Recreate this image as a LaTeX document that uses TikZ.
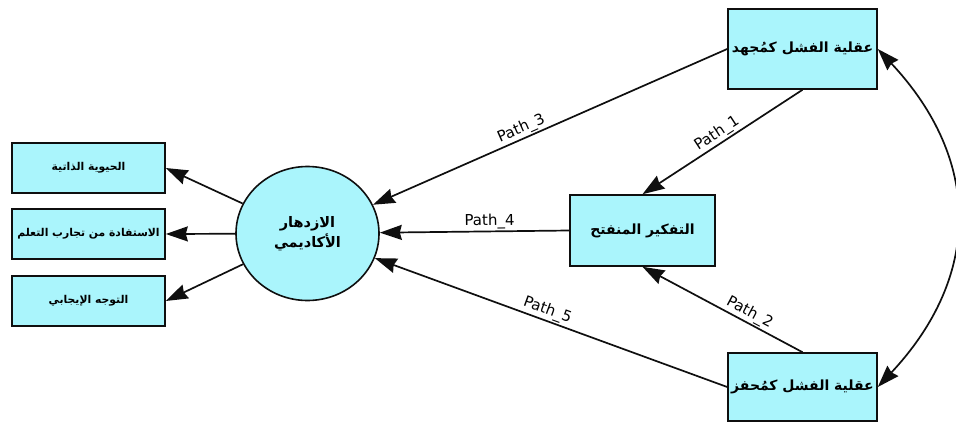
\documentclass[tikz,border=0pt]{standalone}
\usepackage{fontspec}
\setmainfont{DejaVu Sans}
\newfontfamily\arabicfont[Script=Arabic]{DejaVu Sans}
\TeXXeTstate=1
\usetikzlibrary{shapes.geometric,arrows.meta}
\definecolor{boxfill}{RGB}{170,245,252}
\definecolor{edgecol}{RGB}{15,15,15}
\tikzset{
  mybox/.style={draw=edgecol, line width=1.6pt, fill=boxfill, inner sep=0pt, align=center, font=\arabicfont\bfseries\fontsize{14}{17}\selectfont},
  smallbox/.style={mybox, minimum width=153pt, minimum height=50pt, font=\arabicfont\bfseries\fontsize{10.8}{13}\selectfont},
  arr/.style={line width=1.7pt, draw=edgecol, -{Stealth[length=22pt,width=15pt,inset=2pt]}},
  lbl/.style={sloped, above, inner sep=1.5pt, font=\fontsize{15}{17}\selectfont},
}
\begin{document}
\begin{tikzpicture}[x=1pt,y=-1pt]
\useasboundingbox (0,0) rectangle (956,423);
\node[mybox, minimum width=149pt, minimum height=80pt] (top) at (802.5,49) {\beginR عقلية الفشل كمُجهد\endR};
\node[mybox, minimum width=145pt, minimum height=71pt] (mid) at (642.5,230.5) {\beginR التفكير المنفتح\endR};
\node[mybox, minimum width=149pt, minimum height=68pt] (bot) at (802.5,387) {\beginR عقلية الفشل كمُحفز\endR};
\node[mybox, ellipse, minimum width=143pt, minimum height=134pt, font=\arabicfont\bfseries\fontsize{14.5}{20}\selectfont] (acad) at (307.5,233.5) {\beginR الازدهار\endR\\\beginR الأكاديمي\endR};
\node[smallbox] (b1) at (88.5,168) {\beginR الحيوية الذاتية\endR};
\node[smallbox] (b2) at (88.5,234) {\beginR الاستفادة من تجارب التعلم\endR};
\node[smallbox] (b3) at (88.5,301) {\beginR التوجه الإيجابي\endR};

\draw[arr] (top.west) -- node[lbl, pos=0.57] {Path\_3} (acad);
\draw[arr] (top.south) -- node[lbl, pos=0.5] {Path\_1} (mid.north);
\draw[arr] (mid.west) -- node[lbl, pos=0.42] {Path\_4} (acad);
\draw[arr] (bot.north) -- node[lbl, pos=0.36] {Path\_2} (mid.south);
\draw[arr] (bot.west) -- node[lbl, pos=0.52] {Path\_5} (acad);
\draw[arr] (acad) -- (b1.east);
\draw[arr] (acad) -- (b2.east);
\draw[arr] (acad) -- (b3.east);
\draw[line width=1.7pt, draw=edgecol, {Stealth[length=22pt,width=15pt,inset=2pt]}-{Stealth[length=22pt,width=15pt,inset=2pt]}]
  (top.east) .. controls ([shift={(104,111)}]top.east) and ([shift={(104,-111)}]bot.east) .. (bot.east);
\end{tikzpicture}
\end{document}
